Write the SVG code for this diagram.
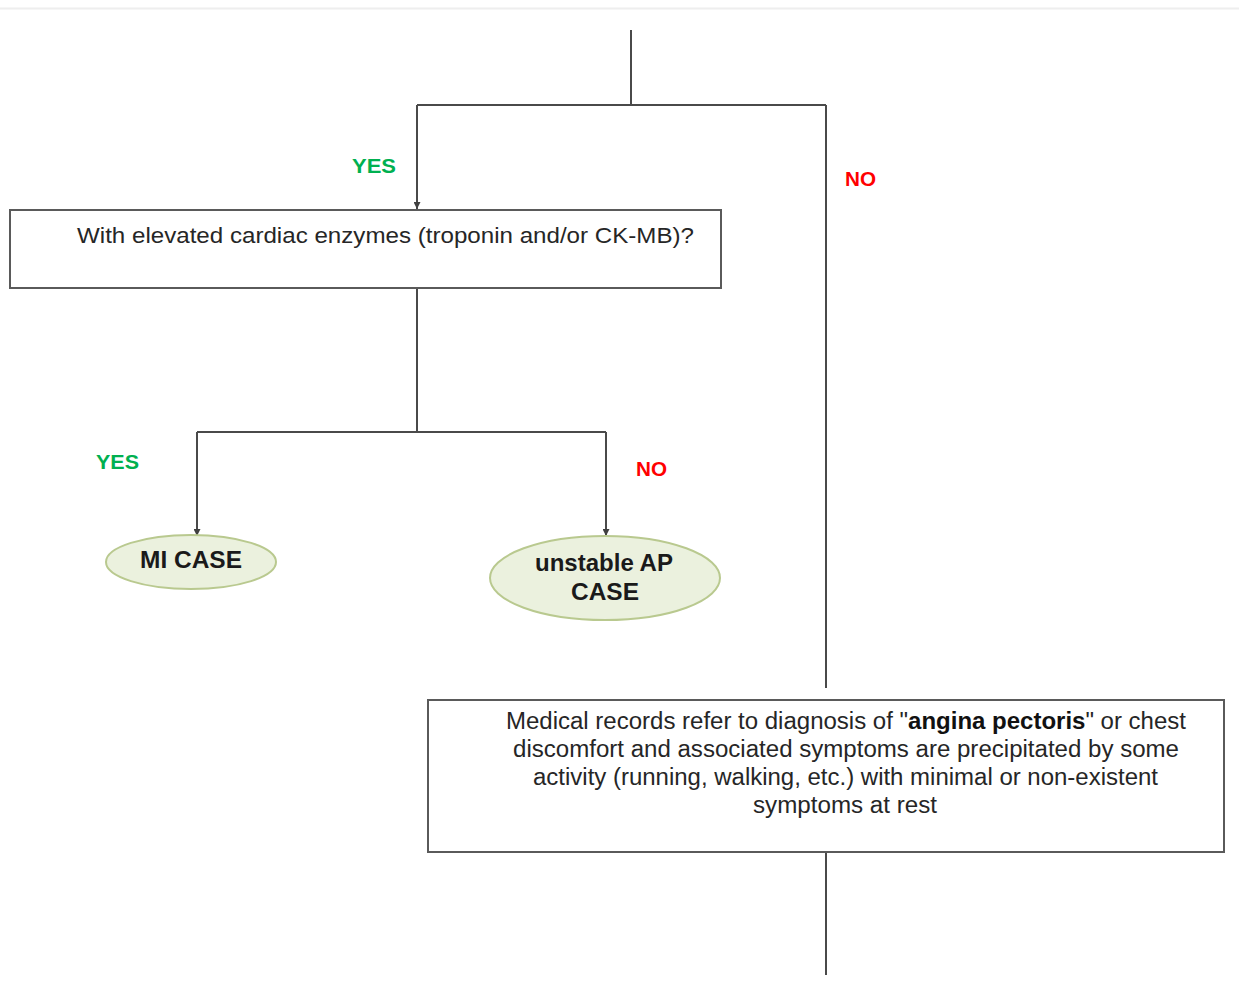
<svg xmlns="http://www.w3.org/2000/svg" width="1239" height="992" viewBox="0 0 1239 992">
<defs>
<marker id="arr" viewBox="0 0 10 10" refX="10" refY="5" markerWidth="8" markerHeight="7" orient="auto" markerUnits="userSpaceOnUse">
<path d="M0,0 L10,5 L0,10 z" fill="#404040"/>
</marker>
<style>
.ln{stroke:#4a4a4a;stroke-width:2;fill:none}
.box{fill:#fff;stroke:#5a5a5a;stroke-width:2}
.ell{fill:#ebf1de;stroke:#b9c98f;stroke-width:2}
.t{font-family:"Liberation Sans",Arial,sans-serif;fill:#262626}
.yes{font-family:"Liberation Sans",Arial,sans-serif;font-weight:bold;fill:#00b050;font-size:20px}
.no{font-family:"Liberation Sans",Arial,sans-serif;font-weight:bold;fill:#ff0000;font-size:20px}
.b{font-family:"Liberation Sans",Arial,sans-serif;font-weight:bold;fill:#1a1a1a;font-size:24px}
</style>
</defs>
<rect width="1239" height="992" fill="#fff"/>
<line x1="0" y1="8.5" x2="1239" y2="8.5" stroke="#eeeeee" stroke-width="2"/>
<g id="connectors">
<path class="ln" d="M631,30 V105"/>
<path class="ln" d="M417,105 H826"/>
<path class="ln" d="M417,105 V209" marker-end="url(#arr)"/>
<path class="ln" d="M826,105 V688"/>
<path class="ln" d="M417,288 V432"/>
<path class="ln" d="M197,432 H606"/>
<path class="ln" d="M197,432 V536" marker-end="url(#arr)"/>
<path class="ln" d="M606,432 V536" marker-end="url(#arr)"/>
<path class="ln" d="M826,852 V975"/>
<text class="yes" x="352" y="173" textLength="44" lengthAdjust="spacingAndGlyphs">YES</text>
<text class="no" x="845" y="186" textLength="31" lengthAdjust="spacingAndGlyphs">NO</text>
<text class="yes" x="96" y="469" textLength="43" lengthAdjust="spacingAndGlyphs">YES</text>
<text class="no" x="636" y="476" textLength="31" lengthAdjust="spacingAndGlyphs">NO</text>
</g>
<g id="enzymes">
<rect class="box" x="10" y="210" width="711" height="78"/>
<text class="t" x="77" y="243" font-size="22" textLength="617" lengthAdjust="spacingAndGlyphs">With elevated cardiac enzymes (troponin and/or CK-MB)?</text>
</g>
<g id="mi">
<ellipse class="ell" cx="191" cy="562" rx="85" ry="27"/>
<text class="b" x="191" y="568" text-anchor="middle" textLength="102" lengthAdjust="spacingAndGlyphs">MI CASE</text>
</g>
<g id="unstable">
<ellipse class="ell" cx="605" cy="578" rx="115" ry="42"/>
<text class="b" x="604" y="571" text-anchor="middle" textLength="138" lengthAdjust="spacingAndGlyphs">unstable AP</text>
<text class="b" x="605" y="600" text-anchor="middle" textLength="68" lengthAdjust="spacingAndGlyphs">CASE</text>
</g>
<g id="angina">
<rect class="box" x="428" y="700" width="796" height="152"/>
<text class="t" x="506" y="729" font-size="23" textLength="680" lengthAdjust="spacingAndGlyphs">Medical records refer to diagnosis of "<tspan font-weight="bold" fill="#111">angina pectoris</tspan>" or chest</text>
<text class="t" x="513" y="757" font-size="23" textLength="666" lengthAdjust="spacingAndGlyphs">discomfort and associated symptoms are precipitated by some</text>
<text class="t" x="533" y="785" font-size="23" textLength="625" lengthAdjust="spacingAndGlyphs">activity (running, walking, etc.) with minimal or non-existent</text>
<text class="t" x="753" y="813" font-size="23" textLength="184" lengthAdjust="spacingAndGlyphs">symptoms at rest</text>
</g>
</svg>
